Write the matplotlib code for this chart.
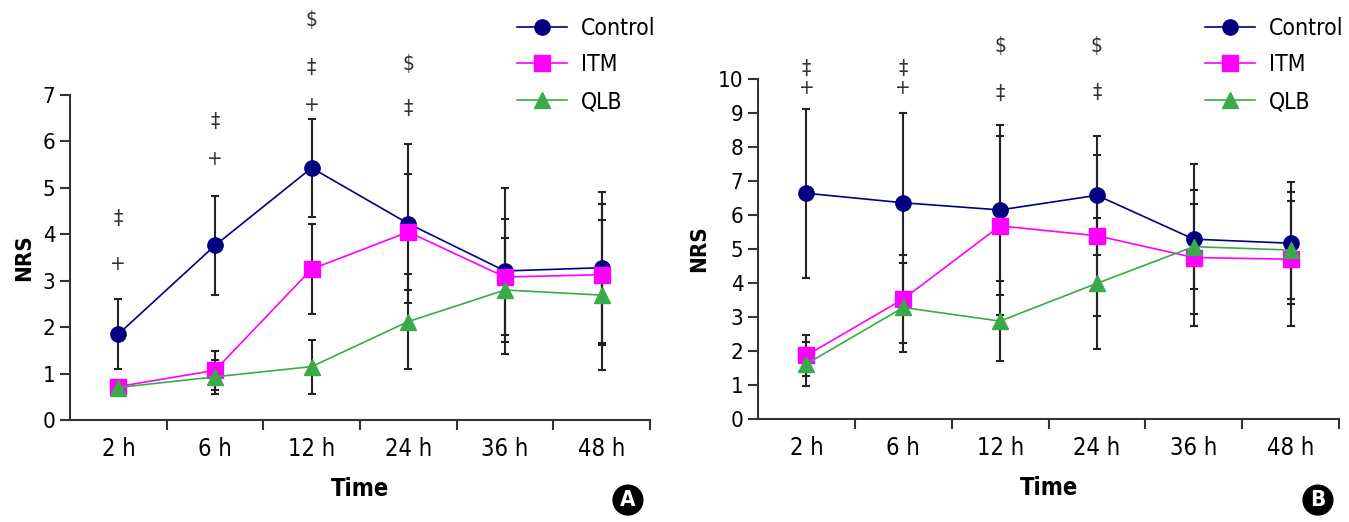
import matplotlib
matplotlib.use("Agg")
import matplotlib.pyplot as plt
import numpy as np

# condensed face, closest to the journal's narrow font
plt.rcParams['font.family'] = ['DejaVu Sans']
plt.rcParams['font.stretch'] = 'condensed'

# data
times = ["2 h", "6 h", "12 h", "24 h", "36 h", "48 h"]
groups = ["Control", "ITM", "QLB"]

control_a = [1.85, 3.76, 5.43, 4.23, 3.21, 3.28]
itm_a = [0.72, 1.07, 3.25, 4.05, 3.08, 3.13]
qlb_a = [0.70, 0.93, 1.15, 2.12, 2.80, 2.69]
control_a_sd = [0.75, 1.06, 1.06, 1.72, 1.79, 1.63]
itm_a_sd = [0.0, 0.42, 0.97, 1.25, 1.25, 1.52]
qlb_a_sd = [0.0, 0.37, 0.58, 1.03, 1.12, 1.62]

control_b = [6.64, 6.36, 6.15, 6.58, 5.29, 5.17]
itm_b = [1.87, 3.53, 5.68, 5.39, 4.75, 4.70]
qlb_b = [1.62, 3.28, 2.88, 3.99, 5.07, 4.97]
control_b_sd = [2.49, 2.64, 2.50, 1.75, 2.20, 1.80]
itm_b_sd = [0.60, 1.28, 2.63, 2.37, 2.00, 1.97]
qlb_b_sd = [0.65, 1.30, 1.18, 1.93, 1.26, 1.43]

# significance marks: (time index, symbol, y value)
marks_a = [(0, "+", 3.37), (0, "‡", 4.33), (1, "+", 5.63), (1, "‡", 6.43),
           (2, "+", 6.79), (2, "‡", 7.59), (2, "$", 8.61),
           (3, "‡", 6.70), (3, "$", 7.66)]
marks_b = [(0, "+", 9.73), (0, "‡", 10.29), (1, "+", 9.73), (1, "‡", 10.29),
           (2, "‡", 9.56), (2, "$", 10.96), (3, "‡", 9.60), (3, "$", 10.96)]

colors = ["#000080", "#ff00ff", "#3aaa48"]
markers = ["o", "s", "^"]
msizes = [11, 11.5, 11]

fig = plt.figure(figsize=(13.49, 5.22), dpi=100)
ax_a = fig.add_axes([0.0519, 0.1954, 0.4299, 0.6226])
ax_b = fig.add_axes([0.5619, 0.1973, 0.4307, 0.6513])


def draw_panel(ax, means, sds, marks, ymax, letter, legend_x, badge_x):
    x = np.arange(len(times)) + 0.5
    for m, s in zip(means, sds):
        ax.errorbar(x, m, yerr=s, fmt="none", ecolor="#222222", elinewidth=1.5,
                    capsize=3, capthick=1.5, zorder=2, clip_on=False)
    lines = []
    for m, c, mk, ms, g in zip(means, colors, markers, msizes, groups):
        ln, = ax.plot(x, m, color=c, marker=mk, markersize=ms, lw=1.2,
                      label=g, zorder=3, clip_on=False)
        lines.append(ln)
    for i, sym, y in marks:
        ax.text(x[i], y, sym, ha="center", va="center", fontsize=15, color="#333333")

    ax.set_xlim(0, 6)
    ax.set_ylim(0, ymax)
    ax.set_yticks(range(0, ymax + 1))
    ax.set_xticks(x)
    ax.set_xticklabels(times)
    ax.set_xticks(np.arange(1, 7), minor=True)
    ax.tick_params(axis="x", which="major", length=0, labelsize=17, pad=12)
    ax.tick_params(axis="x", which="minor", length=7, width=1.5, color="#333333")
    ax.tick_params(axis="y", length=7, width=1.5, color="#333333", labelsize=16)
    for sp in ["top", "right"]:
        ax.spines[sp].set_visible(False)
    for sp in ["left", "bottom"]:
        ax.spines[sp].set_linewidth(1.5)
        ax.spines[sp].set_color("#333333")
    ax.set_ylabel("NRS", fontsize=16, fontweight="bold", labelpad=6)
    ax.set_xlabel("Time", fontsize=17, fontweight="bold", labelpad=12)

    ax.legend(handles=lines, loc="upper left", bbox_to_anchor=(legend_x, 0.968),
              bbox_transform=fig.transFigure, frameon=False, fontsize=16.5,
              handlelength=2.2, handletextpad=0.6, labelspacing=0.6,
              borderpad=0, borderaxespad=0)

    fig.text(badge_x, 0.042, letter, ha="center", va="center", color="white",
             fontsize=16, fontweight="bold",
             bbox=dict(boxstyle="circle,pad=0.22", fc="black", ec="black"))


draw_panel(ax_a, [control_a, itm_a, qlb_a], [control_a_sd, itm_a_sd, qlb_a_sd],
           marks_a, 7, "A", 0.383, 0.4655)
draw_panel(ax_b, [control_b, itm_b, qlb_b], [control_b_sd, itm_b_sd, qlb_b_sd],
           marks_b, 10, "B", 0.893, 0.977)

fig.savefig("out.png", dpi=100)
